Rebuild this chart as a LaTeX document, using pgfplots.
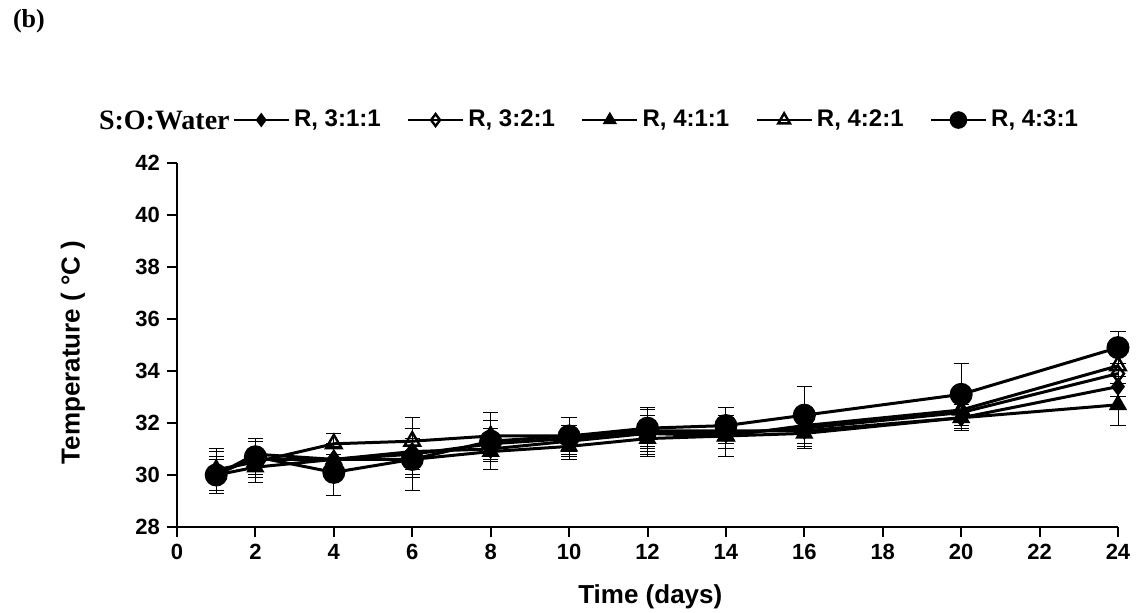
\documentclass[border=0pt]{standalone}
\usepackage{pgfplots}
\pgfplotsset{compat=1.18}
\usepackage{pgfplotstable}
\usepackage{fontspec}
\setmainfont{Liberation Sans}
\newfontfamily\serifb{Liberation Serif}

\pgfplotstableread{
x y e
1 30.0 0.6
2 30.8 0.5
4 30.6 0.5
6 30.8 0.6
8 31.2 0.6
10 31.4 0.5
12 31.7 0.6
14 31.7 0.5
16 31.7 0.6
20 32.2 0.5
24 33.4 0.4
}\sA
\pgfplotstableread{
x y e
1 30.1 0.8
2 30.6 0.7
4 30.6 0.6
6 30.9 0.9
8 31.0 0.8
10 31.3 0.6
12 31.6 0.7
14 31.6 0.6
16 31.8 0.7
20 32.4 0.6
24 33.9 0.4
}\sB
\pgfplotstableread{
x y e
1 30.0 0.7
2 30.3 0.6
4 30.6 0.5
6 30.6 0.7
8 30.9 0.7
10 31.1 0.5
12 31.4 0.6
14 31.5 0.5
16 31.6 0.6
20 32.2 0.5
24 32.7 0.8
}\sC
\pgfplotstableread{
x y e
1 30.2 0.8
2 30.5 0.8
4 31.2 0.4
6 31.3 0.9
8 31.5 0.9
10 31.5 0.7
12 31.6 0.9
14 31.5 0.8
16 31.9 0.7
20 32.5 0.7
24 34.2 0.4
}\sD
\pgfplotstableread{
x y e
1 30.0 0.6
2 30.7 0.7
4 30.1 0.9
6 30.6 1.2
8 31.3 0.8
10 31.5 0.7
12 31.8 0.8
14 31.9 0.7
16 32.3 1.1
20 33.1 1.2
24 34.9 0.6
}\sE

\pgfplotsset{errs/.style={
  error bars/y dir=both, error bars/y explicit,
  error bars/error bar style={line width=0.5pt, black, solid},
  error bars/error mark options={rotate=90, mark size=3.8pt, line width=0.5pt, black, fill=none}}}

\begin{document}
\begin{tikzpicture}
\path[use as bounding box] (0,0) rectangle (570.5pt,306.5pt);
\node[anchor=west,font=\serifb\bfseries\fontsize{13}{15}\selectfont] at (3pt,296pt) {(b)};
\begin{axis}[
  at={(88.5pt,43pt)}, anchor=origin,
  scale only axis, width=470.5pt, height=182pt,
  xmin=0, xmax=24, ymin=28, ymax=42,
  xtick={0,2,...,24}, ytick={28,30,...,42},
  axis x line*=bottom, axis y line*=left,
  axis line style={line width=1.2pt, -},
  tick style={line width=1pt, black},
  tick align=outside, major tick length=5pt,
  /pgf/number format/assume math mode=true,
  ticklabel style={font=\bfseries\fontsize{11}{13}\selectfont},
  xlabel={\bfseries Time (days)},
  ylabel={\bfseries Temperature ( °C )},
  label style={font=\bfseries\fontsize{13}{15}\selectfont},
  xlabel style={at={(axis description cs:0.503,-0.192)}, anchor=center},
  ylabel style={at={(axis description cs:-0.1105,0.48)}, anchor=center},
  clip=false,
  legend style={draw=none, fill=none, at={(0.0585,1.118)}, anchor=west,
    font=\bfseries\fontsize{12}{14}\selectfont, inner xsep=0pt,
    /tikz/every even column/.append style={column sep=11pt}},
  legend columns=-1,
  legend image code/.code={
    \draw[mark repeat=2,mark phase=2,line width=1.3pt,every mark/.append style={scale=0.75}] plot coordinates {(0pt,0pt) (13.75pt,0pt) (27.5pt,0pt)};}
]
\addplot[black, line width=1.5pt, errs, mark=diamond*, mark size=4pt, mark options={fill=black, line width=0.8pt}] table[x=x,y=y,y error=e]{\sA};
\addlegendentry{R, 3:1:1}
\addplot[black, line width=1.5pt, errs, mark=diamond, mark size=4pt, mark options={fill=white, line width=1.2pt}] table[x=x,y=y,y error=e]{\sB};
\addlegendentry{R, 3:2:1}
\addplot[black, line width=1.5pt, errs, mark=triangle*, mark size=4.5pt, mark options={fill=black, line width=0.8pt}] table[x=x,y=y,y error=e]{\sC};
\addlegendentry{R, 4:1:1}
\addplot[black, line width=1.5pt, errs, mark=triangle, mark size=4.5pt, mark options={fill=white, line width=1.2pt}] table[x=x,y=y,y error=e]{\sD};
\addlegendentry{R, 4:2:1}
\addplot[black, line width=1.5pt, errs, mark=*, mark size=5pt, mark options={fill=black}] table[x=x,y=y,y error=e]{\sE};
\addlegendentry{R, 4:3:1}
\node[anchor=east, font=\serifb\bfseries\fontsize{14}{16}\selectfont, inner xsep=1pt] at (axis description cs:0.0585,1.118) {S:O:Water};
\end{axis}
\end{tikzpicture}
\end{document}
